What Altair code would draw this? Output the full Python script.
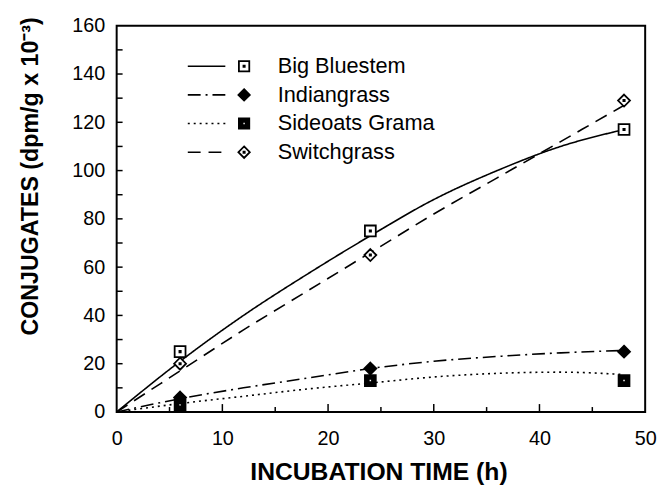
import altair as alt
import pandas as pd

series = ["Big Bluestem", "Indiangrass", "Sideoats Grama", "Switchgrass"]

obs_time = [6, 24, 48]
obs_bb = [25, 75, 117]
obs_ig = [6, 18, 25]
obs_sg = [3, 13, 13]
obs_sw = [20, 65, 129]

fit_time = [0, 6, 12, 18, 24, 30, 36, 42, 48]
fit_bb = [0, 21, 40, 57, 73, 88, 100, 110, 117]
fit_ig = [0, 5.5, 10, 14, 18, 21, 23, 24.5, 25.5]
fit_sg = [0, 3.5, 6.5, 9.5, 12, 14.5, 16, 16.5, 15.5]
fit_sw = [0, 17, 34, 50, 66, 82, 97, 112, 127]

x_labels = [0, 10, 20, 30, 40, 50]
x_major = [10, 20, 30, 40]
x_minor = [5, 15, 25, 35, 45]
y_labels = [0, 20, 40, 60, 80, 100, 120, 140, 160]
y_ticks = [10, 20, 30, 40, 50, 60, 70, 80, 90, 100, 110, 120, 130, 140, 150]

obs_rows = []
for name, vals in zip(series, [obs_bb, obs_ig, obs_sg, obs_sw]):
    for t, v in zip(obs_time, vals):
        obs_rows.append({"t": t, "v": v, "series": name, "sym": name})
obs_df = pd.DataFrame(obs_rows)

fit_rows = []
for name, vals in zip(series, [fit_bb, fit_ig, fit_sg, fit_sw]):
    for t, v in zip(fit_time, vals):
        fit_rows.append({"t": t, "v": v, "series": name})
fit_df = pd.DataFrame(fit_rows)

xmaj_df = pd.DataFrame({"t": x_major})
xmin_df = pd.DataFrame({"t": x_minor})
ytk_df = pd.DataFrame({"v": y_ticks})

FONT = "Liberation Sans"
W, H = 535, 391

xscale = alt.Scale(domain=[0, 50], nice=False, zero=False)
yscale = alt.Scale(domain=[0, 160], nice=False)

xaxis = alt.Axis(
    values=x_labels, ticks=False, domain=False, grid=False, labelPadding=17,
    labelFlush=False, labelFont=FONT, labelFontSize=20, labelColor="black",
    title="INCUBATION TIME (h)", titleFont=FONT, titleFontSize=25,
    titleFontWeight="bold", titleColor="black", titleX=265, titleY=68,
    titleBaseline="alphabetic")
yaxis = alt.Axis(
    values=y_labels, ticks=False, domain=False, grid=False, labelPadding=12,
    labelFlush=False, labelFont=FONT, labelFontSize=20, labelColor="black",
    title="CONJUGATES (dpm/g x 10\u207b\u00b3)", titleFont=FONT, titleFontSize=23.5,
    titleFontWeight="bold", titleColor="black", titleAngle=270,
    titleX=-87, titleY=152, titleBaseline="middle", titleAlign="center")

shape_paths = [
    "M-1,-1H1V1H-1Z M-0.12,-0.12H0.12V0.12H-0.12Z",
    "M0,-1.1L1.1,0L0,1.1L-1.1,0Z",
    "M-1,-1H1V1H-1Z M-0.3,-0.3V0.3H0.3V-0.3Z",
    "M0,-1.1L1.1,0L0,1.1L-1.1,0Z M-0.12,-0.12H0.12V0.12H-0.12Z",
]

dash_legend = alt.Legend(
    orient="none", legendX=71, legendY=30, title=None,
    symbolType="stroke", symbolSize=1444, symbolStrokeWidth=1.8,
    symbolStrokeColor="black", labelExpr="''", labelFont=FONT,
    labelFontSize=22, rowPadding=7, padding=0, clipHeight=22,
)

sym_legend = alt.Legend(
    orient="none", legendX=118, legendY=30, title=None,
    symbolSize=110, symbolStrokeWidth=1.8, symbolStrokeColor="black",
    labelFont=FONT, labelFontSize=22, labelColor="black", labelOffset=23,
    labelLimit=300, rowPadding=7, padding=0, clipHeight=22,
)

X = alt.X("t:Q", scale=xscale, axis=xaxis)
Y = alt.Y("v:Q", scale=yscale, axis=yaxis)

lines = alt.Chart(fit_df).mark_line(interpolate="monotone", color="black").encode(
    x=X, y=Y,
    strokeDash=alt.StrokeDash("series:N", scale=alt.Scale(
        domain=series, range=[[1, 0], [13, 5, 2, 5], [2, 4], [13, 8]]), legend=dash_legend),
    strokeWidth=alt.StrokeWidth("series:N", scale=alt.Scale(
        domain=series, range=[1.6, 1.6, 1.8, 2.5]), legend=None),
)

points = alt.Chart(obs_df).mark_point(strokeWidth=1.8, opacity=1, size=121).encode(
    x=X, y=Y,
    shape=alt.Shape("sym:N", scale=alt.Scale(range=shape_paths), legend=sym_legend),
    fill=alt.Fill("sym:N", scale=alt.Scale(range=["white", "black", "black", "white"]), legend=sym_legend),
    stroke=alt.Stroke("sym:N", scale=alt.Scale(range=["black", "black", "black", "black"]), legend=sym_legend),
)

xmaj = alt.Chart(xmaj_df).mark_rule(color="black", strokeWidth=1.5).encode(
    x=X, y=alt.value(H), y2=alt.value(H - 8),
)
xmin = alt.Chart(xmin_df).mark_rule(color="black", strokeWidth=1.5).encode(
    x=X, y=alt.value(H), y2=alt.value(H - 5),
)
ytk = alt.Chart(ytk_df).mark_rule(color="black", strokeWidth=1.5).encode(
    y=Y, x=alt.value(0), x2=alt.value(6),
)

chart = alt.layer(lines, points, xmaj, xmin, ytk).properties(
    width=W, height=H,
    padding={"left": 110, "top": 15, "right": 14, "bottom": 74},
    autosize=alt.AutoSizeParams(type="none"),
    background="white",
).configure_view(stroke="black", strokeWidth=2)

chart.save("out.html", embed_options={"renderer": "svg", "actions": False})
